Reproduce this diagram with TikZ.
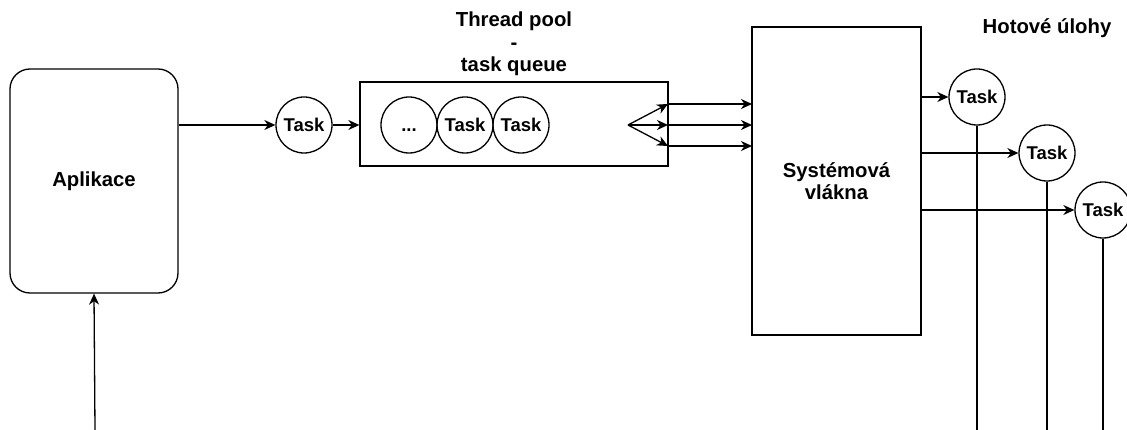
\documentclass[tikz,border=0pt]{standalone}
\usepackage{fontspec}
\setmainfont{Liberation Sans}
\usetikzlibrary{arrows.meta}
\begin{document}
\begin{tikzpicture}[x=1pt,y=-1pt,
  line width=1.3pt,
  arr/.style={-{Stealth[length=11pt,width=10pt,inset=3.5pt]}},
  lbl/.style={font=\fontsize{20.3}{22.5}\selectfont\bfseries,align=center,inner sep=0pt},
  taskc/.style={circle,draw,minimum size=56pt,inner sep=0pt,font=\fontsize{18.5}{20}\selectfont\bfseries},
  box/.style={draw,inner sep=0pt}]
\useasboundingbox (0,0) rectangle (1127,430);
% Aplikace
\node[box,rounded corners=20pt,minimum width=168pt,minimum height=224pt,lbl] (app) at (94,181) {Aplikace};
% input task
\node[taskc] (t0) at (304,125) {Task};
% queue
\node[box,minimum width=308pt,minimum height=84pt] (queue) at (514,124) {};
\node[lbl] (qlabel) at (514,44) {Thread pool\\-\\task queue};
\node[taskc] (q1) at (409,125) {\vphantom{Task}...};
\node[taskc] (q2) at (465,125) {Task};
\node[taskc] (q3) at (521,125) {Task};
% system threads
\node[box,minimum width=169pt,minimum height=308pt,lbl] (sys) at (836.5,181) {Systémová\\vlákna};
\node[lbl] (done) at (1047,28) {Hotové úlohy};
% output tasks
\node[taskc] (o1) at (977,97) {Task};
\node[taskc] (o2) at (1047,153) {Task};
\node[taskc] (o3) at (1103,210) {Task};
% coordinates
\coordinate (bot) at (95,430);
\coordinate (fan) at (628,125);
\coordinate (qa) at (668,104);
\coordinate (qb) at (668,125);
\coordinate (qc) at (668,146);
\coordinate (sa) at (752,104);
\coordinate (sb) at (752,125);
\coordinate (sc) at (752,146);
\coordinate (d1) at (977,430);
\coordinate (d2) at (1047,430);
\coordinate (d3) at (1103,430);
% connectors
\draw[arr] (bot) -- (app.south);
\draw[arr] (app.east |- t0) -- (t0);
\draw[arr] (t0) -- (queue.west |- t0);
\draw[arr] (fan) -- (qa);
\draw[arr] (fan) -- (qb);
\draw[arr] (fan) -- (qc);
\draw[arr] (qa) -- (sa);
\draw[arr] (qb) -- (sb);
\draw[arr] (qc) -- (sc);
\draw[arr] (sys.east |- o1) -- (o1);
\draw[arr] (sys.east |- o2) -- (o2);
\draw[arr] (sys.east |- o3) -- (o3);
\draw (o1.south) -- (d1);
\draw (o2.south) -- (d2);
\draw (o3.south) -- (d3);
\end{tikzpicture}
\end{document}
